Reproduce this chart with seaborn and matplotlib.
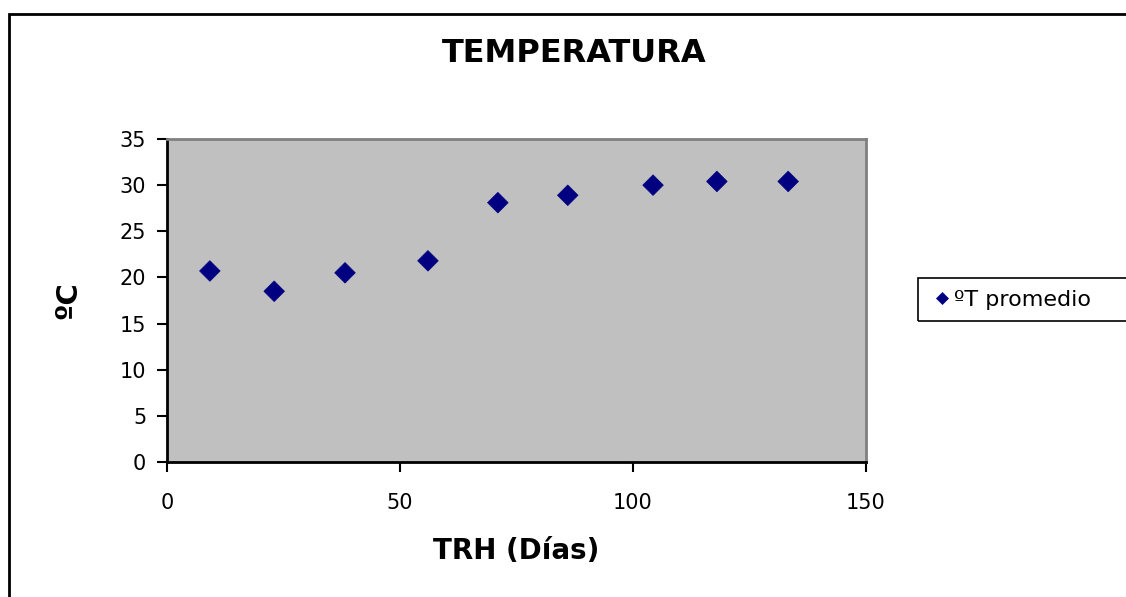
import matplotlib
matplotlib.use("Agg")
import matplotlib.pyplot as plt
import matplotlib.patches as mpatches
import seaborn as sns
import pandas as pd

# Data
dias = [9.2, 23.0, 38.2, 56.0, 71.0, 86.0, 104.3, 118.0, 133.3]
temp = [20.7, 18.5, 20.5, 21.8, 28.1, 28.9, 30.0, 30.4, 30.4]
serie = "ºT promedio"
xticks = [0, 50, 100, 150]
yticks = [0, 5, 10, 15, 20, 25, 30, 35]

df = pd.DataFrame({"TRH": dias, "T": temp, "serie": serie})

sns.set_theme(style="white")
plt.rcParams["font.family"] = ["DejaVu Sans"]
plt.rcParams["text.color"] = "black"
plt.rcParams["axes.labelcolor"] = "black"

fig = plt.figure(figsize=(11.26, 5.97), dpi=100)
ax = fig.add_axes([167/1126, 1-462/597, (866-167)/1126, (462-139)/597])
ax.set_facecolor("#C0C0C0")

sns.scatterplot(data=df, x="TRH", y="T", hue="serie", palette=["#000080"],
                marker="D", s=110, edgecolor="#000080", linewidth=0.5, ax=ax,
                legend=True, zorder=3)

ax.set_xlim(0, 150)
ax.set_ylim(0, 35)
ax.set_xticks(xticks)
ax.set_yticks(yticks)
ax.tick_params(axis="both", which="major", direction="out", length=7, width=1.5,
               colors="black", labelsize=15, pad=8, bottom=True, left=True)
ax.tick_params(axis="x", pad=15)

for side in ["left", "bottom"]:
    ax.spines[side].set_color("black")
    ax.spines[side].set_linewidth(2)
for side in ["top", "right"]:
    ax.spines[side].set_color("#808080")
    ax.spines[side].set_linewidth(2)

ax.set_xlabel("")
ax.set_ylabel("")
fig.text(516/1126, 1-551/597, "TRH (Días)", ha="center", va="center",
         fontsize=20, fontweight="bold")
fig.text(68/1126, 1-300/597, "ºC", ha="center", va="center", rotation=90,
         fontsize=21, fontweight="bold")
fig.text(574/1126, 1-54/597, "TEMPERATURA", ha="center", va="center",
         fontsize=23, fontweight="bold")

# Legend
handles, labels = ax.get_legend_handles_labels()
ax.legend_.remove()
leg = fig.legend(handles, labels, loc="center left",
                 bbox_to_anchor=(913/1126, 1-300/597), frameon=False,
                 fontsize=16, handletextpad=0.05, borderpad=0.3,
                 handlelength=1.0, markerscale=0.6)
for t in leg.get_texts():
    t.set_color("black")
legbox = mpatches.Rectangle((918/1126, 1-321/597), 0.3, 43/597,
                            transform=fig.transFigure, fill=False,
                            edgecolor="black", linewidth=1.2, clip_on=False)
fig.patches.append(legbox)

# Figure border (chart area)
rect = mpatches.Rectangle((9/1126, -0.1), 1.2, 1-14/597+0.1, transform=fig.transFigure,
                          fill=False, edgecolor="black", linewidth=2, clip_on=False)
fig.patches.append(rect)

fig.savefig("out.png", dpi=100)
